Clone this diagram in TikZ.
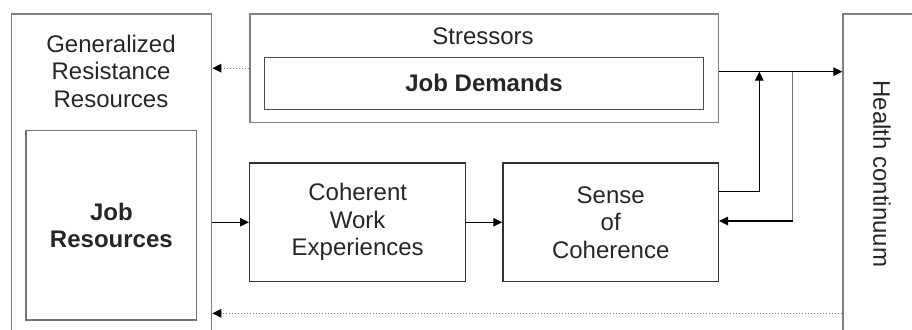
\documentclass[tikz,border=0pt]{standalone}
\usepackage{fontspec}
\setmainfont{Liberation Sans}
\usetikzlibrary{arrows.meta}
\begin{document}
\begin{tikzpicture}[x=1pt,y=-1pt,
  box/.style={draw=#1,line width=1.4pt,rectangle,inner sep=0pt,anchor=north west},
  box/.default={black!80},
  txt/.style={inner sep=0pt,align=center,font=\fontsize{24}{27.5}\selectfont,text=black!85},
  bold/.style={txt,font=\fontsize{24}{27.5}\selectfont\bfseries},
  arr/.style={line width=1.3pt,black,-{Triangle[length=9pt,width=8.5pt]}},
  dotarr/.style={line width=1.4pt,black!50,dash pattern=on 1.4pt off 1.6pt,-{Triangle[length=9pt,width=8.5pt,color=black]}}]
\useasboundingbox (0,0) rectangle (912,329);
% boxes
\node[box=black!50,minimum width=200pt,minimum height=340pt] (grr) at (11,13.3) {};
\node[txt] (grrt) at (111,71) {Generalized\\Resistance\\Resources};
\node[box=black!55,minimum width=170.7pt,minimum height=189.3pt] (jr) at (25.3,130) {};
\node[bold] (jrt) at (jr.center) {Job\\Resources};
\node[box=black!50,minimum width=468.4pt,minimum height=108.4pt] (st) at (249.3,13.3) {};
\node[txt] (stt) at (483,36) {Stressors};
\node[box=black!70,minimum width=438.7pt,minimum height=52pt] (jd) at (264,56.7) {};
\node[bold] (jdt) at (jd.center) {Job Demands};
\node[box,minimum width=216pt,minimum height=118.5pt] (cwe) at (249,162.3) {};
\node[txt] (cwet) at (cwe.center) {Coherent\\Work\\Experiences};
\node[box,minimum width=215.4pt,minimum height=118.5pt] (soc) at (502.3,162.3) {};
\node[txt] (soct) at (soc.center) {Sense\\of\\Coherence};
\node[box=black!50,minimum width=100pt,minimum height=340pt] (hc) at (842.3,13.3) {};
\node[txt,rotate=-90] (hct) at (882,174) {Health continuum};
% helper coordinates
\coordinate (y1) at (0,71.7);
\coordinate (y2) at (0,191.7);
\coordinate (y3) at (0,221);
\coordinate (y4) at (0,313.3);
\coordinate (ux) at (759.3,0);
\coordinate (dx) at (792.7,0);
% connectors
\draw[arr] (grr.east |- cwe.west) -- (cwe.west);
\draw[arr] (cwe.east) -- (soc.west);
\draw[arr] (st.east |- y1) -- (hc.west |- y1);
\draw[arr] (soc.east |- y2) -| (ux |- y1);
\draw[line width=1.4pt,black!55] (dx |- y1) -- (dx |- y3);
\draw[arr] (dx |- y3) -- (soc.east |- y3);
\draw[dotarr] (st.west) -- (grr.east |- st.west);
\draw[dotarr] (hc.west |- y4) -- (grr.east |- y4);
\end{tikzpicture}
\end{document}
